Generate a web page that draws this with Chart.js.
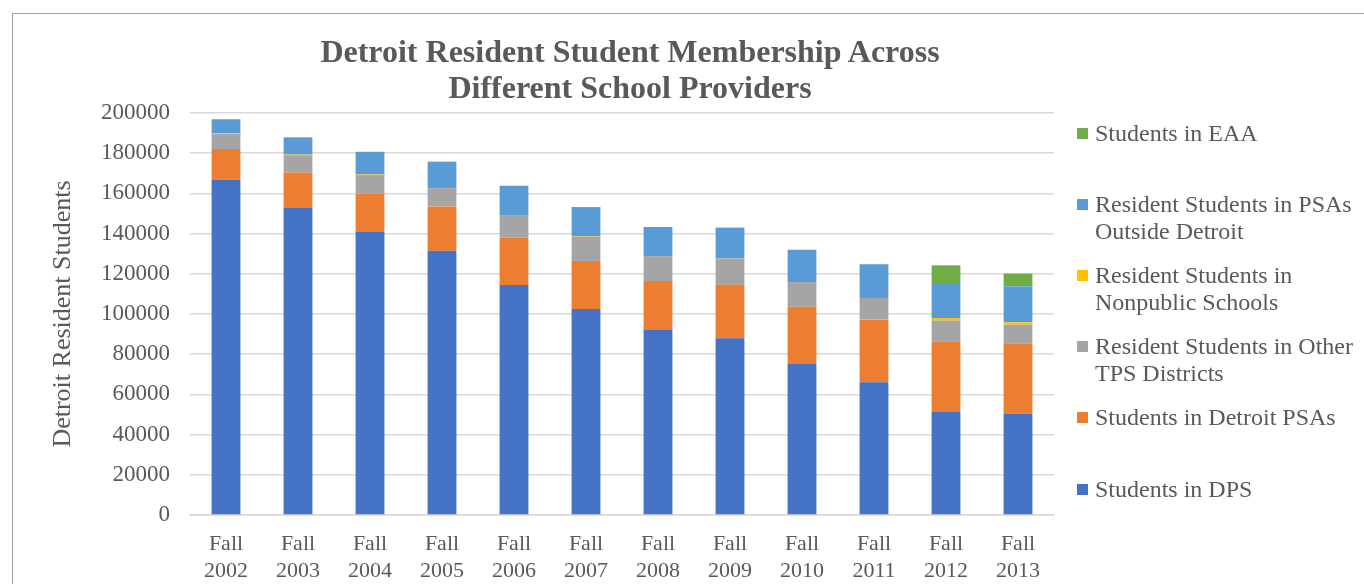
<!DOCTYPE html>
<html>
<head>
<meta charset="utf-8">
<script src="https://cdn.jsdelivr.net/npm/chart.js@4.4.0/dist/chart.umd.min.js"></script>
<style>
  html, body { margin: 0; padding: 0; background: #fff; }
  #wrap { position: relative; width: 1364px; height: 584px; overflow: hidden; }
  #frame { position: absolute; left: 12px; top: 13px; width: 1400px; height: 700px; border-top: 1px solid #a0a0a0; border-left: 1px solid #a0a0a0; }
  #c { position: absolute; left: 0; top: 0; }
  #title { position: absolute; left: 230px; width: 800px; top: 33px; text-align: center;
    font: bold 32px "Liberation Serif", "Times New Roman", serif; color: #595959; line-height: 36px; }
  #legend { position: absolute; left: 1077px; top: 0; font: 24px "Liberation Serif", "Times New Roman", serif; color: #595959; }
  .item { position: absolute; left: 0; width: 290px; line-height: 27px; }
  .sw { position: absolute; left: 0; top: 8px; width: 11px; height: 11px; }
  .txt { position: absolute; left: 18px; white-space: nowrap; }
</style>
</head>
<body>
<div id="wrap">
  <div id="frame"></div>
  <canvas id="c" width="1364" height="584"></canvas>
  <div id="title">Detroit Resident Student Membership Across<br>Different School Providers</div>
  <div id="legend"></div>
</div>
<script>
const categories = ['2002','2003','2004','2005','2006','2007','2008','2009','2010','2011','2012','2013'];
const studentsDPS      = [166700, 153000, 141100, 131500, 114400, 102500, 92000, 87900, 75400, 66000, 51200, 50500];
const detroitPSAs      = [15400, 17400, 18900, 22000, 23700, 23900, 24400, 26600, 28200, 31200, 35300, 35000];
const otherTPS         = [7400, 8600, 9100, 9100, 10800, 12100, 12400, 13200, 12300, 10800, 10300, 9200];
const nonpublic        = [300, 300, 300, 0, 0, 300, 0, 0, 0, 0, 1200, 1200];
const psasOutside      = [7100, 8600, 11300, 13200, 14900, 14400, 14500, 15300, 16100, 16700, 16900, 17900];
const studentsEAA      = [0, 0, 0, 0, 0, 0, 0, 0, 0, 0, 9300, 6300];
const yTicks = [0, 20000, 40000, 60000, 80000, 100000, 120000, 140000, 160000, 180000, 200000];

const series = [
  { label: 'Students in DPS', data: studentsDPS, color: '#4472C4', lines: ['Students in DPS'] },
  { label: 'Students in Detroit PSAs', data: detroitPSAs, color: '#ED7D31', lines: ['Students in Detroit PSAs'] },
  { label: 'Resident Students in Other TPS Districts', data: otherTPS, color: '#A5A5A5', lines: ['Resident Students in Other', 'TPS Districts'] },
  { label: 'Resident Students in Nonpublic Schools', data: nonpublic, color: '#FFC000', lines: ['Resident Students in', 'Nonpublic Schools'] },
  { label: 'Resident Students in PSAs Outside Detroit', data: psasOutside, color: '#5B9BD5', lines: ['Resident Students in PSAs', 'Outside Detroit'] },
  { label: 'Students in EAA', data: studentsEAA, color: '#70AD47', lines: ['Students in EAA'] }
];

const serif = '"Liberation Serif", "Times New Roman", serif';

const chart = new Chart(document.getElementById('c'), {
  type: 'bar',
  data: {
    labels: categories.map(y => ['Fall', y]),
    datasets: series.map(s => ({
      label: s.label,
      data: s.data,
      backgroundColor: s.color,
      borderWidth: 0,
      barPercentage: 0.4,
      categoryPercentage: 1.0
    }))
  },
  options: {
    responsive: false,
    animation: false,
    layout: { padding: { left: 0, right: 310, top: 113, bottom: 0 } },
    plugins: { legend: { display: false }, title: { display: false }, tooltip: { enabled: false } },
    scales: {
      x: {
        stacked: true,
        grid: { display: false, drawTicks: false },
        border: { display: true, color: '#d9d9d9', width: 1.5 },
        ticks: { color: '#595959', font: { family: serif, size: 22, lineHeight: 1.23 }, padding: 16, maxRotation: 0, autoSkip: false },
        afterFit: s => { s.height = 69; }
      },
      y: {
        stacked: true,
        min: 0, max: 200000,
        afterBuildTicks: s => { s.ticks = yTicks.map(v => ({ value: v })); },
        grid: { color: '#d9d9d9', lineWidth: 1.5, drawTicks: false },
        border: { display: false },
        ticks: { color: '#595959', font: { family: serif, size: 23 }, padding: 20, callback: v => String(v) },
        title: { display: true, text: 'Detroit Resident Students', color: '#595959', font: { family: serif, size: 26 }, padding: { top: 48, bottom: 0 } },
        afterFit: s => { s.width = 190; }
      }
    }
  }
});

// HTML legend built from the series, in reverse stacking order
const legendTops = [120, 191, 262, 333, 404, 476];
const legend = document.getElementById('legend');
series.slice().reverse().forEach((s, i) => {
  const it = document.createElement('div');
  it.className = 'item';
  it.style.top = legendTops[i] + 'px';
  it.innerHTML = '<div class="sw" style="background:' + s.color + '"></div><div class="txt">' + s.lines.join('<br>') + '</div>';
  legend.appendChild(it);
});
</script>
</body>
</html>
